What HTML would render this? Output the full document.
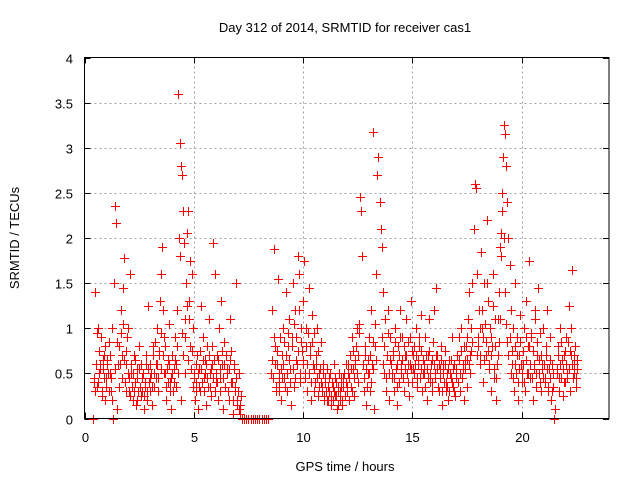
<!DOCTYPE html>
<html><head><meta charset="utf-8"><style>
body{margin:0;background:#fff}
svg text{font-family:"Liberation Sans",sans-serif;font-size:13px;fill:#000}
</style></head><body>
<svg id="chart" width="640" height="480" xmlns="http://www.w3.org/2000/svg">
<rect width="640" height="480" fill="#fff"/>
<text x="345" y="32" text-anchor="middle">Day 312 of 2014, SRMTID for receiver cas1</text>
<g id="grid"></g>
<g id="axes"></g>
<g id="marks"></g>
<rect x="84.5" y="57.5" width="524.5" height="361" fill="none" stroke="#000" stroke-width="1"/>
<text x="345" y="471" text-anchor="middle">GPS time / hours</text>
<text x="0" y="0" text-anchor="middle" transform="translate(19,238) rotate(-90)">SRMTID / TECUs</text>
</svg>
<script>
const xTicks=[0,5,10,15,20];
const yTicks=[0,0.5,1,1.5,2,2.5,3,3.5,4];
const yTickLabels=["0","0.5","1","1.5","2","2.5","3","3.5","4"];
const times=[0.4,0.45,0.5,0.55,0.6,0.65,0.7,0.75,0.8,0.85,0.9,0.95,1.0,1.05,1.1,
1.15,1.2,1.25,1.3,1.35,1.4,1.45,1.5,1.55,1.6,1.65,1.7,1.75,1.8,1.85,1.9,1.95,2.0,
2.05,2.1,2.15,2.2,2.25,2.3,2.35,2.4,2.45,2.5,2.6,2.65,2.7,2.75,2.8,2.85,2.9,2.95,3.0,
3.05,3.1,3.15,3.2,3.25,3.3,3.35,3.4,3.45,3.5,3.55,3.6,3.65,3.7,3.75,3.8,3.85,3.9,3.95,4.0,
4.05,4.1,4.15,4.2,4.25,4.3,4.35,4.4,4.45,4.5,4.55,4.6,4.65,4.7,4.75,4.8,4.85,4.9,4.95,5.0,4.32,4.38,4.4,4.6,
5.05,5.1,5.15,5.2,5.25,5.3,5.35,5.4,5.45,5.5,5.55,5.6,5.65,5.7,5.75,5.8,5.85,5.9,5.95,6.0,
6.05,6.1,6.15,6.2,6.25,6.3,6.35,6.4,6.45,6.5,6.6,6.65,6.7,6.75,6.8,6.85,6.9,6.95,7.0,7.05,7.1,7.15,7.2,
7.3,7.4,7.5,7.6,7.7,7.8,7.9,8.0,8.1,8.2,8.3,8.4,
8.55,8.6,8.65,8.7,8.75,8.8,8.85,8.9,8.95,9.0,
9.05,9.1,9.15,9.2,9.25,9.3,9.35,9.4,9.45,9.5,9.55,9.6,9.65,9.7,9.75,9.8,9.85,9.9,9.95,10.0,
10.05,10.1,10.15,10.2,10.25,10.3,10.35,10.4,10.45,10.5,10.55,10.6,10.65,10.7,10.75,10.8,10.85,10.9,10.95,11.0,
11.05,11.1,11.15,11.2,11.3,11.35,11.4,11.45,11.5,11.55,11.6,11.65,11.7,11.75,11.8,11.85,11.9,11.95,12.0,
12.05,12.1,12.15,12.2,12.25,12.3,12.35,12.4,12.45,12.5,12.55,12.6,12.65,12.7,12.75,12.8,12.85,12.9,12.95,13.0,
13.05,13.1,13.15,13.2,13.25,13.3,13.35,13.4,13.45,13.5,13.55,13.6,13.65,13.7,13.75,13.8,13.85,13.9,13.95,14.0,
14.05,14.1,14.15,14.2,14.25,14.3,14.35,14.4,14.45,14.5,14.55,14.6,14.65,14.7,14.75,14.8,14.85,14.9,14.95,15.0,
15.05,15.1,15.15,15.2,15.25,15.3,15.35,15.4,15.45,15.5,15.55,15.6,15.65,15.7,15.75,15.8,15.85,15.9,15.95,16.0,
16.05,16.1,16.15,16.2,16.25,16.3,16.35,16.4,16.45,16.5,16.55,16.6,16.65,16.7,16.75,16.8,16.85,16.9,16.95,17.0,
17.05,17.1,17.15,17.2,17.25,17.3,17.35,17.4,17.45,17.5,17.55,17.6,17.65,17.7,17.75,17.8,17.85,17.9,17.95,18.0,
18.05,18.1,18.15,18.2,18.25,18.3,18.35,18.4,18.45,18.5,18.55,18.6,18.65,18.7,18.75,18.8,18.85,18.9,18.95,19.0,
19.05,19.1,19.15,19.2,19.25,19.3,19.35,19.4,19.45,19.5,19.55,19.6,19.65,19.7,19.75,19.8,19.85,19.9,19.95,20.0,
20.05,20.1,20.15,20.2,20.25,20.3,20.35,20.4,20.45,20.5,20.55,20.6,20.65,20.7,20.75,20.8,20.85,20.9,20.95,21.0,
21.05,21.1,21.15,21.2,21.25,21.3,21.35,21.4,21.45,21.5,21.55,21.6,21.65,21.7,21.75,21.8,21.85,21.9,21.95,22.0,
22.05,22.1,22.15,22.2,22.25,22.3,22.35,22.4,22.45,22.5,22.55];
const srmtid=[0,0.4,1.4,0.35,1.0,0.5,0.6,0.9,0.3,0.55,0.7,0.2,0.45,0.65,0.85,
0.5,0.3,1.0,0.0,1.5,2.35,2.17,0.1,0.6,0.8,1.2,0.7,1.45,1.78,0.4,0.6,0.9,1.0,
0.3,1.6,0.5,0.2,0.7,0.4,0.15,0.55,0.3,0.8,0.25,0.45,0.1,0.35,0.6,0.2,1.25,0.4,0.3,
0.5,0.15,0.8,0.35,0.6,1.0,0.45,0.7,1.3,1.6,1.9,1.2,0.9,0.5,0.2,0.65,1.05,0.4,0.1,0.7,
0.3,0.55,0.9,0.6,1.2,3.6,3.05,2.8,2.7,2.3,1.95,0.5,1.5,2.05,2.3,1.3,1.75,1.6,1.0,0.5,2.0,1.8,0.2,1.1,
0.2,0.4,0.7,0.1,0.55,0.3,1.25,0.9,0.45,0.65,0.15,0.8,0.35,1.1,0.5,0.25,0.6,1.95,1.6,0.4,
0.7,0.2,1.0,0.45,1.3,0.6,0.1,0.85,0.35,0.55,0.2,1.1,0.75,0.4,0.05,0.6,0.3,1.5,0.15,0.5,0.05,0.25,0.0,
0,0,0,0,0,0,0,0,0,0,0,0,
0.5,1.2,1.88,0.8,0.3,0.6,1.55,0.4,0.9,0.2,
0.7,1.0,0.45,1.4,0.3,0.8,1.1,0.55,0.15,0.9,1.5,0.35,1.2,0.65,1.8,1.6,0.4,1.0,0.75,1.3,
1.75,0.5,1.0,0.3,1.45,0.8,0.2,1.15,0.6,0.95,0.4,0.7,1.0,0.25,0.5,0.85,0.35,0.6,0.2,0.4,
0.3,0.55,0.2,0.45,0.15,0.35,0.6,0.25,0.4,0.1,0.3,0.5,0.2,0.35,0.15,0.45,0.25,0.6,0.3,
0.5,0.2,0.7,0.35,0.9,0.55,0.25,0.65,1.0,0.4,1.05,2.45,2.3,1.8,0.6,0.3,0.8,0.15,0.5,0.9,
0.3,1.2,0.6,3.18,0.1,0.8,1.6,2.7,2.9,2.4,2.1,1.9,1.4,0.5,1.1,0.3,0.7,1.2,0.2,0.9,
0.45,0.7,0.3,1.0,0.55,0.15,0.8,0.4,1.2,0.6,0.9,0.3,0.7,1.1,0.5,0.85,0.25,0.6,1.3,0.4,
0.7,0.5,1.0,0.35,0.6,0.8,0.45,1.15,0.3,0.65,0.5,0.9,0.2,0.7,1.1,0.4,0.6,0.3,0.85,1.2,
0.5,1.45,0.7,0.3,0.55,0.8,0.15,0.6,0.4,0.75,0.3,0.5,0.2,0.65,0.45,0.9,0.35,0.6,0.25,0.5,
0.7,0.4,0.9,0.3,1.0,0.55,0.2,0.65,0.8,0.35,1.1,1.4,0.5,0.75,1.5,2.1,2.6,2.55,1.6,0.9,
1.2,0.6,1.85,1.0,0.4,1.5,0.7,2.2,1.3,0.55,1.0,0.3,0.8,1.6,0.45,1.1,0.2,0.7,1.4,1.9,
2.05,2.5,2.9,3.25,3.15,2.8,2.4,2.0,1.7,1.2,0.6,1.0,0.3,1.5,0.5,0.9,0.2,0.7,1.15,0.4,
0.6,1.0,0.3,1.3,0.5,0.8,1.75,0.45,0.9,0.2,0.6,1.1,0.35,0.7,1.45,0.5,0.95,0.3,0.6,1.0,
0.4,0.7,1.2,0.3,0.55,0.9,0.2,0.6,0.35,0.0,0.1,0.5,0.8,0.3,1.0,0.45,0.65,0.25,0.7,0.4,
0.9,0.5,1.25,0.3,0.7,1.65,0.45,0.6,0.8,0.35,0.55];
const times2=[0.42,0.47,0.52,0.58,0.62,0.68,0.72,0.78,0.83,0.88,0.92,0.97,1.02,1.08,
1.12,1.18,1.22,1.28,1.38,1.48,1.58,1.62,1.68,1.72,1.78,1.82,1.88,1.92,1.98,
2.02,2.08,2.12,2.18,2.22,2.28,2.32,2.38,2.42,2.48,2.52,2.58,2.62,2.68,2.72,2.78,2.82,2.88,2.92,2.98,
3.02,3.08,3.12,3.18,3.22,3.28,3.32,3.38,3.42,3.48,3.52,3.58,3.62,3.68,3.72,3.78,3.82,3.88,3.92,3.98,
4.02,4.08,4.12,4.18,4.22,4.28,4.48,4.52,4.62,4.68,4.72,4.78,4.82,4.88,4.92,4.98,
5.02,5.08,5.12,5.18,5.22,5.28,5.32,5.38,5.42,5.48,5.52,5.58,5.62,5.68,5.72,5.78,5.82,5.88,5.92,5.98,
6.02,6.08,6.12,6.18,6.22,6.28,6.32,6.38,6.42,6.48,6.52,6.58,6.62,6.68,6.72,6.78,6.82,6.88,6.92,6.98,7.02,7.08,7.12,
8.58,8.62,8.68,8.72,8.78,8.82,8.88,8.92,8.98,
9.02,9.08,9.12,9.18,9.22,9.28,9.32,9.38,9.42,9.48,9.52,9.58,9.62,9.68,9.72,9.78,9.82,9.88,9.92,9.98,
10.02,10.08,10.12,10.18,10.22,10.28,10.32,10.38,10.42,10.48,10.52,10.58,10.62,10.68,10.72,10.78,10.82,10.88,10.92,10.98,
11.02,11.08,11.12,11.18,11.22,11.28,11.32,11.38,11.42,11.48,11.52,11.58,11.62,11.68,11.72,11.78,11.82,11.88,11.92,11.98,
12.02,12.08,12.12,12.18,12.22,12.28,12.32,12.38,12.42,12.48,12.52,12.58,12.78,12.82,12.88,12.92,12.98,
13.02,13.08,13.12,13.18,13.22,13.28,13.32,13.62,13.68,13.72,13.78,13.82,13.88,13.92,13.98,
14.02,14.08,14.12,14.18,14.22,14.28,14.32,14.38,14.42,14.48,14.52,14.58,14.62,14.68,14.72,14.78,14.82,14.88,14.92,14.98,
15.02,15.08,15.12,15.18,15.22,15.28,15.32,15.38,15.42,15.48,15.52,15.58,15.62,15.68,15.72,15.78,15.82,15.88,15.92,15.98,
16.02,16.08,16.12,16.18,16.22,16.28,16.32,16.38,16.42,16.48,16.52,16.58,16.62,16.68,16.72,16.78,16.82,16.88,16.92,16.98,
17.02,17.08,17.12,17.18,17.22,17.28,17.32,17.38,17.42,17.48,17.52,17.58,17.62,17.68,17.72,17.98,
18.02,18.08,18.12,18.18,18.22,18.28,18.32,18.38,18.42,18.48,18.52,18.58,18.62,18.68,18.72,18.78,18.82,18.88,18.92,18.98,
19.02,19.08,19.12,19.18,19.22,19.28,19.32,19.38,19.48,19.52,19.58,19.62,19.68,19.72,19.78,19.82,19.88,19.92,19.98,
20.02,20.08,20.12,20.18,20.22,20.28,20.32,20.38,20.42,20.48,20.52,20.58,20.62,20.68,20.72,20.78,20.82,20.88,20.92,20.98,
21.02,21.08,21.12,21.18,21.22,21.28,21.32,21.38,21.42,21.62,21.68,21.72,21.78,21.82,21.88,21.92,21.98,
22.02,22.08,22.12,22.18,22.22,22.28,22.32,22.38,22.42,22.48,22.52];
const srmtid2=[0.45,0.3,0.6,0.95,0.4,0.75,0.55,0.25,0.65,0.45,0.8,0.35,0.6,0.5,
0.3,0.7,0.45,0.2,0.55,0.85,0.35,0.6,0.95,0.45,1.05,0.65,0.3,0.75,0.5,
0.45,0.25,0.6,0.35,0.5,0.3,0.65,0.2,0.45,0.55,0.35,0.6,0.3,0.5,0.25,0.4,0.7,0.3,0.55,0.45,
0.6,0.35,0.7,0.5,0.85,0.45,0.6,0.3,0.75,0.55,0.95,0.7,0.5,0.8,0.35,0.55,0.4,0.6,0.3,0.45,
0.5,0.4,0.65,0.35,0.8,0.5,0.95,0.7,0.9,1.25,0.65,1.1,0.8,0.55,0.75,0.35,
0.45,0.6,0.3,0.5,0.35,0.75,0.55,0.4,0.65,0.3,0.5,0.6,0.45,0.7,0.35,0.55,0.8,0.45,0.65,0.3,
0.5,0.4,0.65,0.3,0.55,0.75,0.45,0.6,0.35,0.7,0.5,0.3,0.55,0.65,0.4,0.2,0.55,0.35,0.45,0.2,0.3,0.1,0.15,
0.65,0.45,0.9,0.6,0.35,0.75,0.5,0.3,0.55,
0.45,0.6,0.85,0.35,0.7,0.5,0.95,0.65,0.4,0.8,0.55,1.05,0.45,0.9,0.6,0.75,1.2,0.5,0.85,0.6,
0.65,0.45,0.8,0.6,0.95,0.5,0.7,0.4,0.85,0.55,0.3,0.6,0.45,0.75,0.35,0.55,0.4,0.3,0.5,0.25,
0.45,0.2,0.35,0.3,0.5,0.25,0.4,0.2,0.3,0.45,0.25,0.35,0.15,0.3,0.45,0.2,0.35,0.5,0.25,0.4,
0.35,0.6,0.45,0.55,0.3,0.75,0.45,0.6,0.8,0.5,0.7,0.95,0.45,0.7,0.55,0.35,0.65,
0.5,0.7,0.4,0.85,0.55,1.05,0.65,0.9,0.6,0.8,0.45,0.7,0.95,0.5,0.65,
0.6,0.5,0.75,0.45,0.85,0.6,0.35,0.7,0.9,0.5,0.65,0.45,0.8,0.55,0.7,0.4,0.6,0.9,0.55,0.75,
0.55,0.8,0.6,0.7,0.45,0.65,0.9,0.55,0.75,0.5,0.6,0.35,0.7,0.55,0.45,0.75,0.5,0.65,0.4,0.6,
0.45,0.7,0.55,0.35,0.6,0.45,0.65,0.3,0.5,0.6,0.4,0.35,0.55,0.3,0.5,0.65,0.4,0.55,0.3,0.45,
0.55,0.4,0.65,0.5,0.75,0.45,0.6,0.8,0.55,0.65,0.9,0.6,0.7,1.0,0.85,0.7,
0.8,1.0,0.7,1.2,0.9,0.65,1.05,0.85,1.5,0.75,0.6,0.9,0.7,1.25,0.55,0.8,0.45,0.6,1.1,0.85,
1.1,1.8,2.3,2.0,1.4,1.05,0.85,0.7,0.9,0.5,0.75,0.45,0.8,0.6,0.7,0.4,0.55,0.85,0.6,
0.5,0.75,0.4,0.9,0.65,0.5,0.8,0.6,0.95,0.45,0.75,0.55,1.2,0.5,0.85,0.65,0.4,0.7,0.55,0.45,
0.6,0.45,0.8,0.55,0.35,0.65,0.45,0.3,0.5,0.55,0.7,0.45,0.6,0.85,0.55,0.4,0.75,
0.6,0.45,0.85,0.55,0.75,1.0,0.6,0.5,0.7,0.45,0.65];

const NS='http://www.w3.org/2000/svg';
const X0=84.5,X1=609,Y0=418.5,Y1=57.5,XMAX=24,YMAX=4;
function xs(t){return X0+(X1-X0)*t/XMAX;}
function ys(v){return Y0-(Y0-Y1)*v/YMAX;}
const grid=document.getElementById('grid'),axes=document.getElementById('axes'),marks=document.getElementById('marks');
function mk(tag,attrs){const e=document.createElementNS(NS,tag);for(const k in attrs)e.setAttribute(k,attrs[k]);return e;}
yTicks.forEach((v,i)=>{
  const y=Math.round(ys(v))+0.5;
  if(v>0&&v<YMAX){const g=mk('line',{x1:X0,x2:X1,y1:y,y2:y,stroke:'#a0a0a0','stroke-dasharray':'2,3'});
  
  
  grid.appendChild(g);}
  const t1=mk('path',{d:`M${X0} ${y}h6M${X1} ${y}h-6`,stroke:'#000'});
  
  
  axes.appendChild(t1);
  const l=mk('text',{x:73,y:y+5,'text-anchor':'end'});l.textContent=yTickLabels[i];
  
  
  axes.appendChild(l);
});
xTicks.forEach(t=>{
  const x=Math.round(xs(t))+0.5;
  if(t>0){const g=mk('line',{x1:x,x2:x,y1:Y0,y2:Y1,stroke:'#a0a0a0','stroke-dasharray':'2,3'});
  
  
  grid.appendChild(g);}
  const t1=mk('path',{d:`M${x} ${Y0}v-6M${x} ${Y1}v6`,stroke:'#000'});
  
  
  axes.appendChild(t1);
  const l=mk('text',{x:x,y:442,'text-anchor':'middle'});l.textContent=String(t);
  
  
  axes.appendChild(l);
});
function drawSeries(ts,vs){
  ts.forEach((t,i)=>{
    const x=Math.round(xs(t))+0.5,y=Math.round(ys(vs[i]))+0.5;
    const p=mk('path',{d:`M${x-4.5} ${y}h9M${x} ${y-4.5}v9`,stroke:'#ff0000','stroke-width':'1'});
    
    
    marks.appendChild(p);
  });
}
drawSeries(times,srmtid);
drawSeries(times2,srmtid2);
</script>
</body></html>
